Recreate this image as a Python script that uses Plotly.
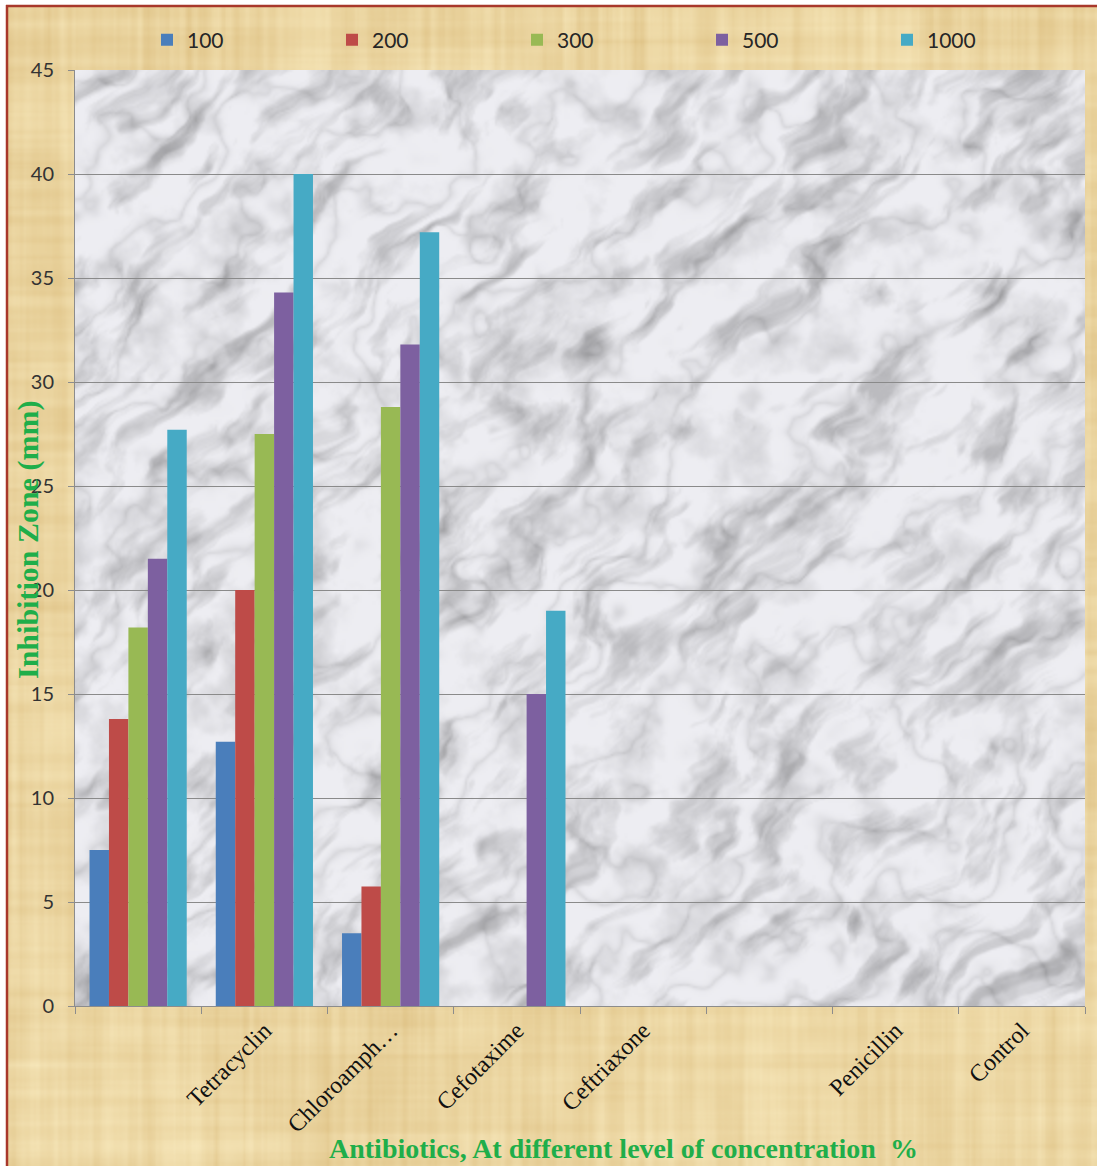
import base64
import struct
import zlib

import numpy as np
import plotly.graph_objects as go

# Antibiotic groups along the x axis (two slots carry no label)
categories = ["", "Tetracyclin", "Chloroamph…", "Cefotaxime", "Ceftriaxone", "", "Penicillin", "Control"]

# Concentration series (%) and inhibition zone diameters (mm)
series_names = ["100", "200", "300", "500", "1000"]
zone_100 = [7.5, 12.7, 3.5, 0, 0, 0, 0, 0]
zone_200 = [13.8, 20.0, 5.75, 0, 0, 0, 0, 0]
zone_300 = [18.2, 27.5, 28.8, 0, 0, 0, 0, 0]
zone_500 = [21.5, 34.3, 31.8, 15.0, 0, 0, 0, 0]
zone_1000 = [27.7, 40.0, 37.2, 19.0, 0, 0, 0, 0]

y_ticks = [0, 5, 10, 15, 20, 25, 30, 35, 40, 45]

colors = ["#4a7ebb", "#be4b48", "#98b954", "#7d60a0", "#46aac5"]
all_series = [zone_100, zone_200, zone_300, zone_500, zone_1000]

positions = list(range(len(categories)))


# ---- procedural background textures (marble plot area, papyrus page) ----
def _hash(ix, iy, seed):
    v = np.sin(ix * 127.1 + iy * 311.7 + seed * 74.7) * 43758.5453
    return v - np.floor(v)


def vnoise(u, v, seed):
    iu, iv = np.floor(u), np.floor(v)
    fu, fv = u - iu, v - iv
    fu = fu * fu * (3 - 2 * fu)
    fv = fv * fv * (3 - 2 * fv)
    a = _hash(iu, iv, seed)
    b = _hash(iu + 1, iv, seed)
    c = _hash(iu, iv + 1, seed)
    d = _hash(iu + 1, iv + 1, seed)
    top = a + (b - a) * fu
    bot = c + (d - c) * fu
    return top + (bot - top) * fv


def fbm(u, v, octaves, seed):
    out = np.zeros_like(u)
    amp, tot, f = 1.0, 0.0, 1.0
    for k in range(octaves):
        out += amp * vnoise(u * f, v * f, seed + k * 13)
        tot += amp
        amp *= 0.5
        f *= 2.0
    return out / tot


def png_uri(rgb):
    h, w, _ = rgb.shape
    raw = b"".join(b"\x00" + rgb[i].tobytes() for i in range(h))

    def chunk(tag, data):
        return (struct.pack(">I", len(data)) + tag + data
                + struct.pack(">I", zlib.crc32(tag + data) & 0xFFFFFFFF))

    ihdr = struct.pack(">IIBBBBB", w, h, 8, 2, 0, 0, 0)
    png = (b"\x89PNG\r\n\x1a\n" + chunk(b"IHDR", ihdr)
           + chunk(b"IDAT", zlib.compress(raw, 9)) + chunk(b"IEND", b""))
    return "data:image/png;base64," + base64.b64encode(png).decode()


def marble_texture(h, w, scale):
    y, x = np.mgrid[0:h, 0:w].astype(float)
    x, y = x * scale, y * scale
    along = (x - y) / np.sqrt(2)     # runs bottom-left to top-right
    across = (x + y) / np.sqrt(2)
    warp = fbm(x / 90.0, y / 90.0, 4, 3)
    streak = fbm(along / 60.0 + 2 * warp, across / 20.0 + 3 * warp, 5, 11)
    cloud = fbm(x / 40.0, y / 40.0, 5, 23)
    veins = np.abs(np.sin(across / 30.0 + 10.0 * warp))
    dark = (0.50 * np.clip((streak - 0.50) * 3.0, 0, 1)
            + 0.22 * (1 - veins) ** 3
            + 0.28 * np.clip((cloud - 0.52) * 3.0, 0, 1))
    g = 0.95 - 0.40 * dark
    g = np.clip(g, 0.5, 0.99)
    rgb = np.stack([g * 250, g * 250, g * 255], axis=-1)
    return np.clip(rgb, 0, 255).astype(np.uint8)


def papyrus_texture(h, w, scale):
    y, x = np.mgrid[0:h, 0:w].astype(float)
    x, y = x * scale, y * scale
    fibre_v = fbm(x / 7.0, y / 400.0, 3, 31)
    fibre_h = fbm(x / 400.0, y / 9.0, 3, 43)
    blot = fbm(x / 60.0, y / 60.0, 3, 57)
    p = 0.40 * fibre_v + 0.30 * fibre_h + 0.30 * blot
    p = (p - p.min()) / (p.max() - p.min())
    dark = np.array([224, 196, 136], dtype=float)
    light = np.array([247, 231, 186], dtype=float)
    rgb = dark[None, None, :] + (light - dark)[None, None, :] * p[..., None]
    return np.clip(rgb, 0, 255).astype(np.uint8)


W, H = 1097, 1166
ml, mr, mt, mb = 75, 12, 70, 160
pw, ph = W - ml - mr, H - mt - mb


def px_x(p):
    return (p - ml) / pw


def px_y(p):
    return (H - mb - p) / ph


marble_src = png_uri(marble_texture(ph // 2, pw // 2, 2.0))
papyrus_src = png_uri(papyrus_texture(H // 2, W // 2, 2.0))

fig = go.Figure()
for name, vals, col in zip(series_names, all_series, colors):
    fig.add_trace(go.Bar(
        x=positions, y=vals, name=name,
        marker=dict(color=col, line=dict(width=0)),
    ))

border = "#a8382b"

images = [
    dict(source=papyrus_src, xref="paper", yref="paper", layer="below",
         x=px_x(6), y=px_y(5), sizex=px_x(W + 2) - px_x(6), sizey=px_y(5) - px_y(H + 2),
         xanchor="left", yanchor="top", sizing="stretch"),
    dict(source=marble_src, xref="paper", yref="paper", layer="below",
         x=0, y=1, sizex=1, sizey=1, xanchor="left", yanchor="top", sizing="stretch"),
]

shapes = [
    dict(type="line", xref="paper", yref="paper", layer="above",
         x0=px_x(7), x1=px_x(7), y0=px_y(H + 2), y1=px_y(5),
         line=dict(color=border, width=2.5)),
    dict(type="line", xref="paper", yref="paper", layer="above",
         x0=px_x(6), x1=px_x(W + 2), y0=px_y(6), y1=px_y(6),
         line=dict(color=border, width=2.5)),
]

fig.update_layout(
    width=W, height=H,
    margin=dict(l=ml, r=mr, t=mt, b=mb, pad=0),
    paper_bgcolor="white",
    plot_bgcolor="rgba(0,0,0,0)",
    barmode="group",
    bargap=0.23,
    bargroupgap=0,
    images=images,
    shapes=shapes,
    showlegend=True,
    legend=dict(
        orientation="h", x=px_x(147), xanchor="left", y=px_y(40), yanchor="middle",
        font=dict(family="Lato", size=21, color="#262626"),
        bgcolor="rgba(0,0,0,0)", entrywidth=140, entrywidthmode="pixels",
        itemwidth=30, traceorder="normal",
    ),
    font=dict(family="Lato", color="#333333"),
)

fig.update_xaxes(
    range=[-0.5, len(categories) - 0.5],
    tickmode="array", tickvals=positions, ticktext=categories,
    ticks="", tickangle=-45,
    tickfont=dict(family="Liberation Serif", size=24, color="#111111"),
    showgrid=False, zeroline=False,
    showline=True, linecolor="#8c8c8c", linewidth=1,
    minor=dict(tickmode="array", tickvals=[p - 0.5 for p in positions] + [len(categories) - 0.5],
               ticks="outside", ticklen=7, tickcolor="#8c8c8c", showgrid=False),
)

fig.update_yaxes(
    range=[0, 45], tickmode="array", tickvals=y_ticks,
    ticks="outside", ticklen=6, tickcolor="#8c8c8c", ticklabelstandoff=10,
    tickfont=dict(family="Lato", size=20, color="#333333"),
    showgrid=True, gridcolor="#8a8a8a", gridwidth=1,
    zeroline=False, showline=True, linecolor="#8c8c8c", linewidth=1,
)

fig.add_annotation(
    text="<b>Inhibition Zone (mm)</b>", textangle=-90,
    xref="paper", yref="paper", x=px_x(28), y=px_y(540),
    xanchor="center", yanchor="middle", showarrow=False,
    font=dict(family="Liberation Serif", size=30, color="#1fae4a"),
)
fig.add_annotation(
    text="<b>Antibiotics, At different level of concentration  %</b>",
    xref="paper", yref="paper", x=px_x(623), y=px_y(1148),
    xanchor="center", yanchor="middle", showarrow=False,
    font=dict(family="Liberation Serif", size=28, color="#1fae4a"),
)

fig.write_html("out.html")
